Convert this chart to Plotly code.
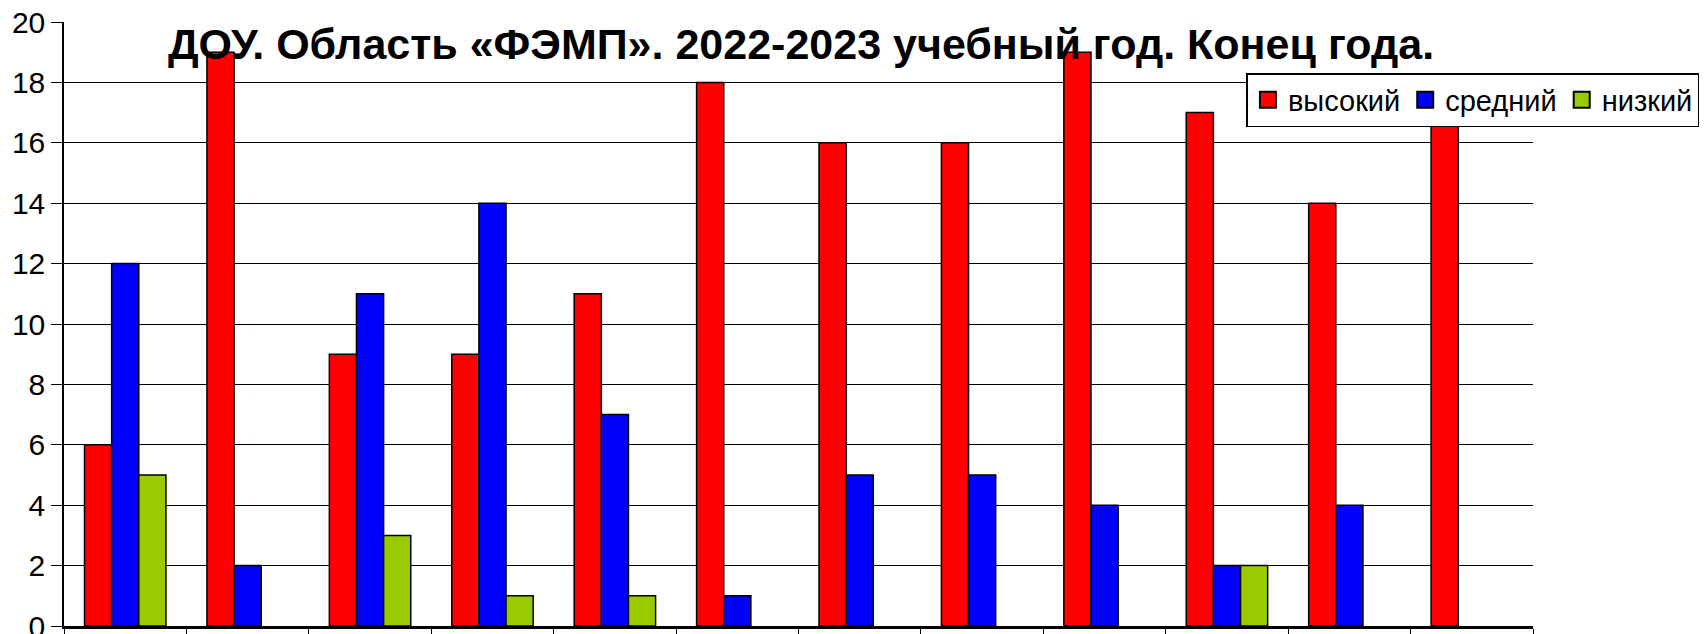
import plotly.graph_objects as go

categories = ["1", "2", "3", "4", "5", "6", "7", "8", "9", "10", "11", "12"]
series_names = ["высокий", "средний", "низкий"]
high = [6, 19, 9, 9, 11, 18, 16, 16, 19, 17, 14, 17]
mid = [12, 2, 11, 14, 7, 1, 5, 5, 4, 2, 4, 0]
low = [5, 0, 3, 1, 1, 0, 0, 0, 0, 2, 0, 0]
colors = ["#FF0000", "#0000FF", "#99CC00"]
title_text = "ДОУ. Область «ФЭМП». 2022-2023 учебный год. Конец года."

W, H = 1707, 634
L, R, T, B = 64, 169, 22, 8
PW, PH = W - L - R, H - T - B

fig = go.Figure()
for name, vals, col in zip(series_names, [high, mid, low], colors):
    # zero values are not drawn (no outline), as in the original
    fig.add_trace(go.Bar(
        x=categories, y=[v if v != 0 else None for v in vals], name=name,
        marker=dict(color=col, line=dict(color="black", width=1.5)),
        showlegend=False,
    ))
for name, col in zip(series_names, colors):
    fig.add_trace(go.Scatter(
        x=[None], y=[None], mode="markers", name=name,
        marker=dict(symbol="square", size=16, color=col,
                    line=dict(color="black", width=2)),
    ))

fig.update_layout(
    width=W, height=H,
    margin=dict(l=L, r=R, t=T, b=B),
    barmode="group", bargap=0.335, bargroupgap=0,
    plot_bgcolor="white", paper_bgcolor="white",
    font=dict(family="Liberation Sans, Arial", color="black"),
    title=dict(
        text="<b>" + title_text + "</b>",
        font=dict(size=43, family="Liberation Sans, Arial", color="black"),
        x=(L + PW / 2) / W, xanchor="center",
        y=(H - 44) / H, yanchor="middle", yref="container",
    ),
    legend=dict(
        orientation="h",
        x=(1705 - L) / PW, xanchor="right",
        y=(H - B - 73) / PH, yanchor="top",
        bgcolor="white", bordercolor="black", borderwidth=1.5,
        font=dict(size=29, family="Liberation Sans, Arial"),
        itemwidth=30, tracegroupgap=0,
    ),
    xaxis=dict(
        showticklabels=False, tickson="boundaries", ticks="outside",
        ticklen=12, tickcolor="black", tickwidth=1,
        showline=True, linecolor="black", linewidth=2.5,
        showgrid=False, automargin=False,
    ),
    yaxis=dict(
        range=[0, 20], dtick=2, tick0=0,
        showgrid=True, gridcolor="black", gridwidth=1,
        showline=True, linecolor="black", linewidth=1.5,
        ticks="outside", ticklen=11, tickcolor="black",
        tickfont=dict(size=30, family="Liberation Sans, Arial"),
        zeroline=False, automargin=False, ticklabelstandoff=0,
        ticklabeloverflow="allow",
    ),
)

fig.write_html("out.html", config={"displayModeBar": False},
               post_script="document.body.style.margin='0';")
